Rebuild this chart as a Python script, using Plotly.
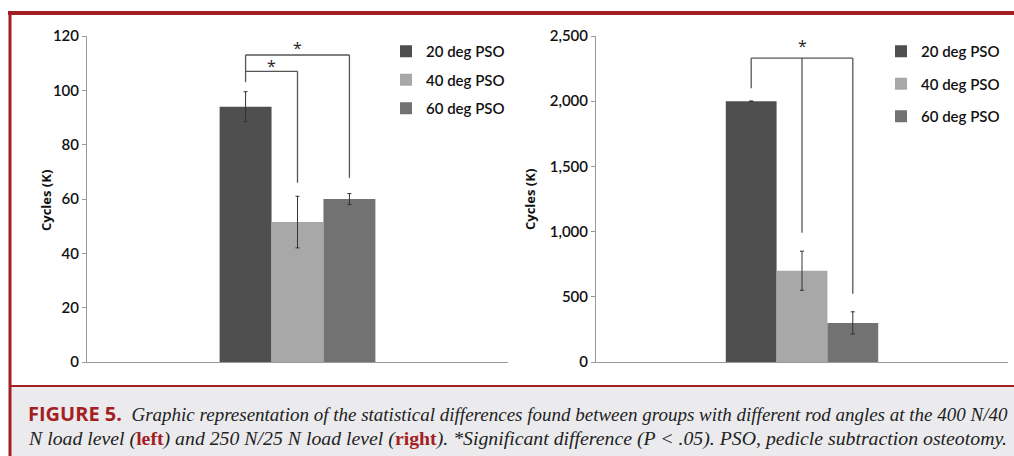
import plotly.graph_objects as go

# ---------------- data ----------------
series = ["20 deg PSO", "40 deg PSO", "60 deg PSO"]
colors = ["#4f4f4f", "#a8a8a8", "#727272"]

left_values = [94, 51.5, 60]
left_errors = [5.5, 9.5, 2]
right_values = [2000, 700, 300]
right_errors = [0, 150, 85]

left_ticks = [0, 20, 40, 60, 80, 100, 120]
right_ticks = [0, 500, 1000, 1500, 2000, 2500]
right_ticklabels = ["0", "500", "1,000", "1,500", "2,000", "2,500"]

# significance brackets (y values in data units)
left_outer = dict(top=113, left_drop=103, right_drop=67.8, star=115.6)
left_inner = dict(top=107, right_drop=66, star=109.0)
right_bracket = dict(top=2331, left_drop=2100, mid_drop=992, right_drop=523, star=2420)

caption_line1 = ("<span style='font-family:Open Sans;font-weight:bold;font-style:normal;color:#a31f24;font-size:20px'>FIGURE 5.</span>"
                 "  <i>Graphic representation of the statistical differences found between groups with different rod angles at the 400 N/40</i>")
caption_line2 = ("<i>N load level (</i><span style='font-weight:bold;font-style:normal;color:#a31f24'>left</span>"
                 "<i>) and 250 N/25 N load level (</i><span style='font-weight:bold;font-style:normal;color:#a31f24'>right</span>"
                 "<i>). *Significant difference (P &lt; .05). PSO, pedicle subtraction osteotomy.</i>")

# ---------------- layout constants ----------------
W, H = 1014, 456
RED = "#a31f24"
BARGAP = 0.63
ydom = [(456 - 362) / 456, (456 - 36) / 456]
LABEL_FONT = dict(family="Lato", size=15, color="#111", weight=600)

fig = go.Figure()

for i, s in enumerate(series):
    fig.add_trace(go.Bar(
        x=[0], y=[left_values[i]], name=s, marker_color=colors[i], marker_line_width=0,
        error_y=dict(type="data", array=[left_errors[i]], color="#333333", thickness=1, width=2),
        xaxis="x", yaxis="y", legend="legend", legendgroup="L" + s))
for i, s in enumerate(series):
    fig.add_trace(go.Bar(
        x=[0], y=[right_values[i]], name=s, marker_color=colors[i], marker_line_width=0,
        error_y=dict(type="data", array=[right_errors[i]], color="#333333", thickness=1, width=2,
                     visible=True),
        xaxis="x2", yaxis="y2", legend="legend2", legendgroup="R" + s))

# bar centers within the group
gw = 1 - BARGAP
bw = gw / 3
centers = [-gw / 2 + bw * (i + 0.5) for i in range(3)]
c0, c1, c2 = centers

line = dict(color="#555555", width=1.3)
shapes = []
def seg(xref, yref, x0, y0, x1, y1):
    shapes.append(dict(type="line", xref=xref, yref=yref, x0=x0, y0=y0, x1=x1, y1=y1, line=line))

# left brackets
seg("x", "y", c0, left_outer["left_drop"], c0, left_outer["top"])
seg("x", "y", c0, left_outer["top"], c2, left_outer["top"])
seg("x", "y", c2, left_outer["top"], c2, left_outer["right_drop"])
seg("x", "y", c0, left_inner["top"], c1, left_inner["top"])
seg("x", "y", c1, left_inner["top"], c1, left_inner["right_drop"])
# right bracket
seg("x2", "y2", c0, right_bracket["left_drop"], c0, right_bracket["top"])
seg("x2", "y2", c0, right_bracket["top"], c2, right_bracket["top"])
seg("x2", "y2", c1, right_bracket["top"], c1, right_bracket["mid_drop"])
seg("x2", "y2", c2, right_bracket["top"], c2, right_bracket["right_drop"])

# frame
shapes.append(dict(type="rect", xref="paper", yref="paper", x0=10 / W, x1=1.0, y0=0, y1=(H - 386) / H,
                   fillcolor="#ebebee", line_width=0, layer="below"))
shapes.append(dict(type="line", xref="paper", yref="paper", x0=8 / W, x1=1.0, y0=(H - 13) / H, y1=(H - 13) / H,
                   line=dict(color=RED, width=4)))
shapes.append(dict(type="line", xref="paper", yref="paper", x0=10 / W, x1=10 / W, y0=0, y1=(H - 11) / H,
                   line=dict(color=RED, width=3)))
shapes.append(dict(type="line", xref="paper", yref="paper", x0=10 / W, x1=1.0, y0=(H - 386) / H, y1=(H - 386) / H,
                   line=dict(color=RED, width=2)))

star_font = dict(family="Open Sans", size=16, color="#222")
annotations = [
    dict(x=(c0 + c2) / 2, y=left_outer["star"], xref="x", yref="y", text="*", showarrow=False,
         yanchor="middle", font=star_font),
    dict(x=(c0 + c1) / 2, y=left_inner["star"], xref="x", yref="y", text="*", showarrow=False,
         yanchor="middle", font=star_font),
    dict(x=c1, y=right_bracket["star"], xref="x2", yref="y2", text="*", showarrow=False,
         yanchor="middle", font=star_font),
    dict(x=35 / W, y=(H - 201) / H, xref="paper", yref="paper", text="<b>Cycles (K)</b>", textangle=-90,
         showarrow=False, font=dict(family="Open Sans", size=13, color="#111")),
    dict(x=530 / W, y=(H - 200) / H, xref="paper", yref="paper", text="<b>Cycles (K)</b>", textangle=-90,
         showarrow=False, font=dict(family="Open Sans", size=13, color="#111")),
    dict(x=26 / W, y=(H - 413) / H, xref="paper", yref="paper", text=caption_line1, showarrow=False,
         xanchor="left", yanchor="middle", align="left",
         font=dict(family="Liberation Serif", size=19, color="#222")),
    dict(x=26 / W, y=(H - 438) / H, xref="paper", yref="paper", text=caption_line2, showarrow=False,
         xanchor="left", yanchor="middle", align="left",
         font=dict(family="Liberation Serif", size=19.8, color="#222")),
]

axis_common = dict(showgrid=False, zeroline=False, showline=True, linecolor="#9a9a9a", linewidth=1,
                   ticks="outside", ticklen=4, tickcolor="#9a9a9a", automargin=False,
                   tickfont=LABEL_FONT)

fig.update_layout(
    width=W, height=H, margin=dict(l=0, r=0, t=0, b=0, autoexpand=False),
    paper_bgcolor="white", plot_bgcolor="white",
    barmode="group", bargap=BARGAP, bargroupgap=0,
    showlegend=True,
    xaxis=dict(domain=[87 / W, 508 / W], range=[-0.5, 0.5], showticklabels=False, ticks="",
               automargin=False,
               showline=True, linecolor="#9a9a9a", showgrid=False, zeroline=False, anchor="y"),
    yaxis=dict(domain=ydom, range=[0, 120], tickvals=left_ticks, anchor="x", **axis_common),
    xaxis2=dict(domain=[596 / W, 1008 / W], range=[-0.5, 0.5], showticklabels=False, ticks="",
                automargin=False,
                showline=True, linecolor="#9a9a9a", showgrid=False, zeroline=False, anchor="y2"),
    yaxis2=dict(domain=ydom, range=[0, 2500], tickvals=right_ticks, ticktext=right_ticklabels,
                anchor="x2", **axis_common),
    legend=dict(x=386 / W, y=(H - 35) / H, xanchor="left", yanchor="top", bgcolor="rgba(0,0,0,0)",
                font=LABEL_FONT, traceorder="grouped",
                tracegroupgap=6, itemwidth=30),
    legend2=dict(x=881 / W, y=(H - 35) / H, xanchor="left", yanchor="top", bgcolor="rgba(0,0,0,0)",
                 font=LABEL_FONT, traceorder="grouped",
                 tracegroupgap=10, itemwidth=30),
    shapes=shapes, annotations=annotations,
)

fig.write_html("out.html", config={"displayModeBar": False},
               post_script="document.body.style.margin='0';document.body.style.overflow='hidden';"
                           "document.documentElement.style.overflow='hidden';")
